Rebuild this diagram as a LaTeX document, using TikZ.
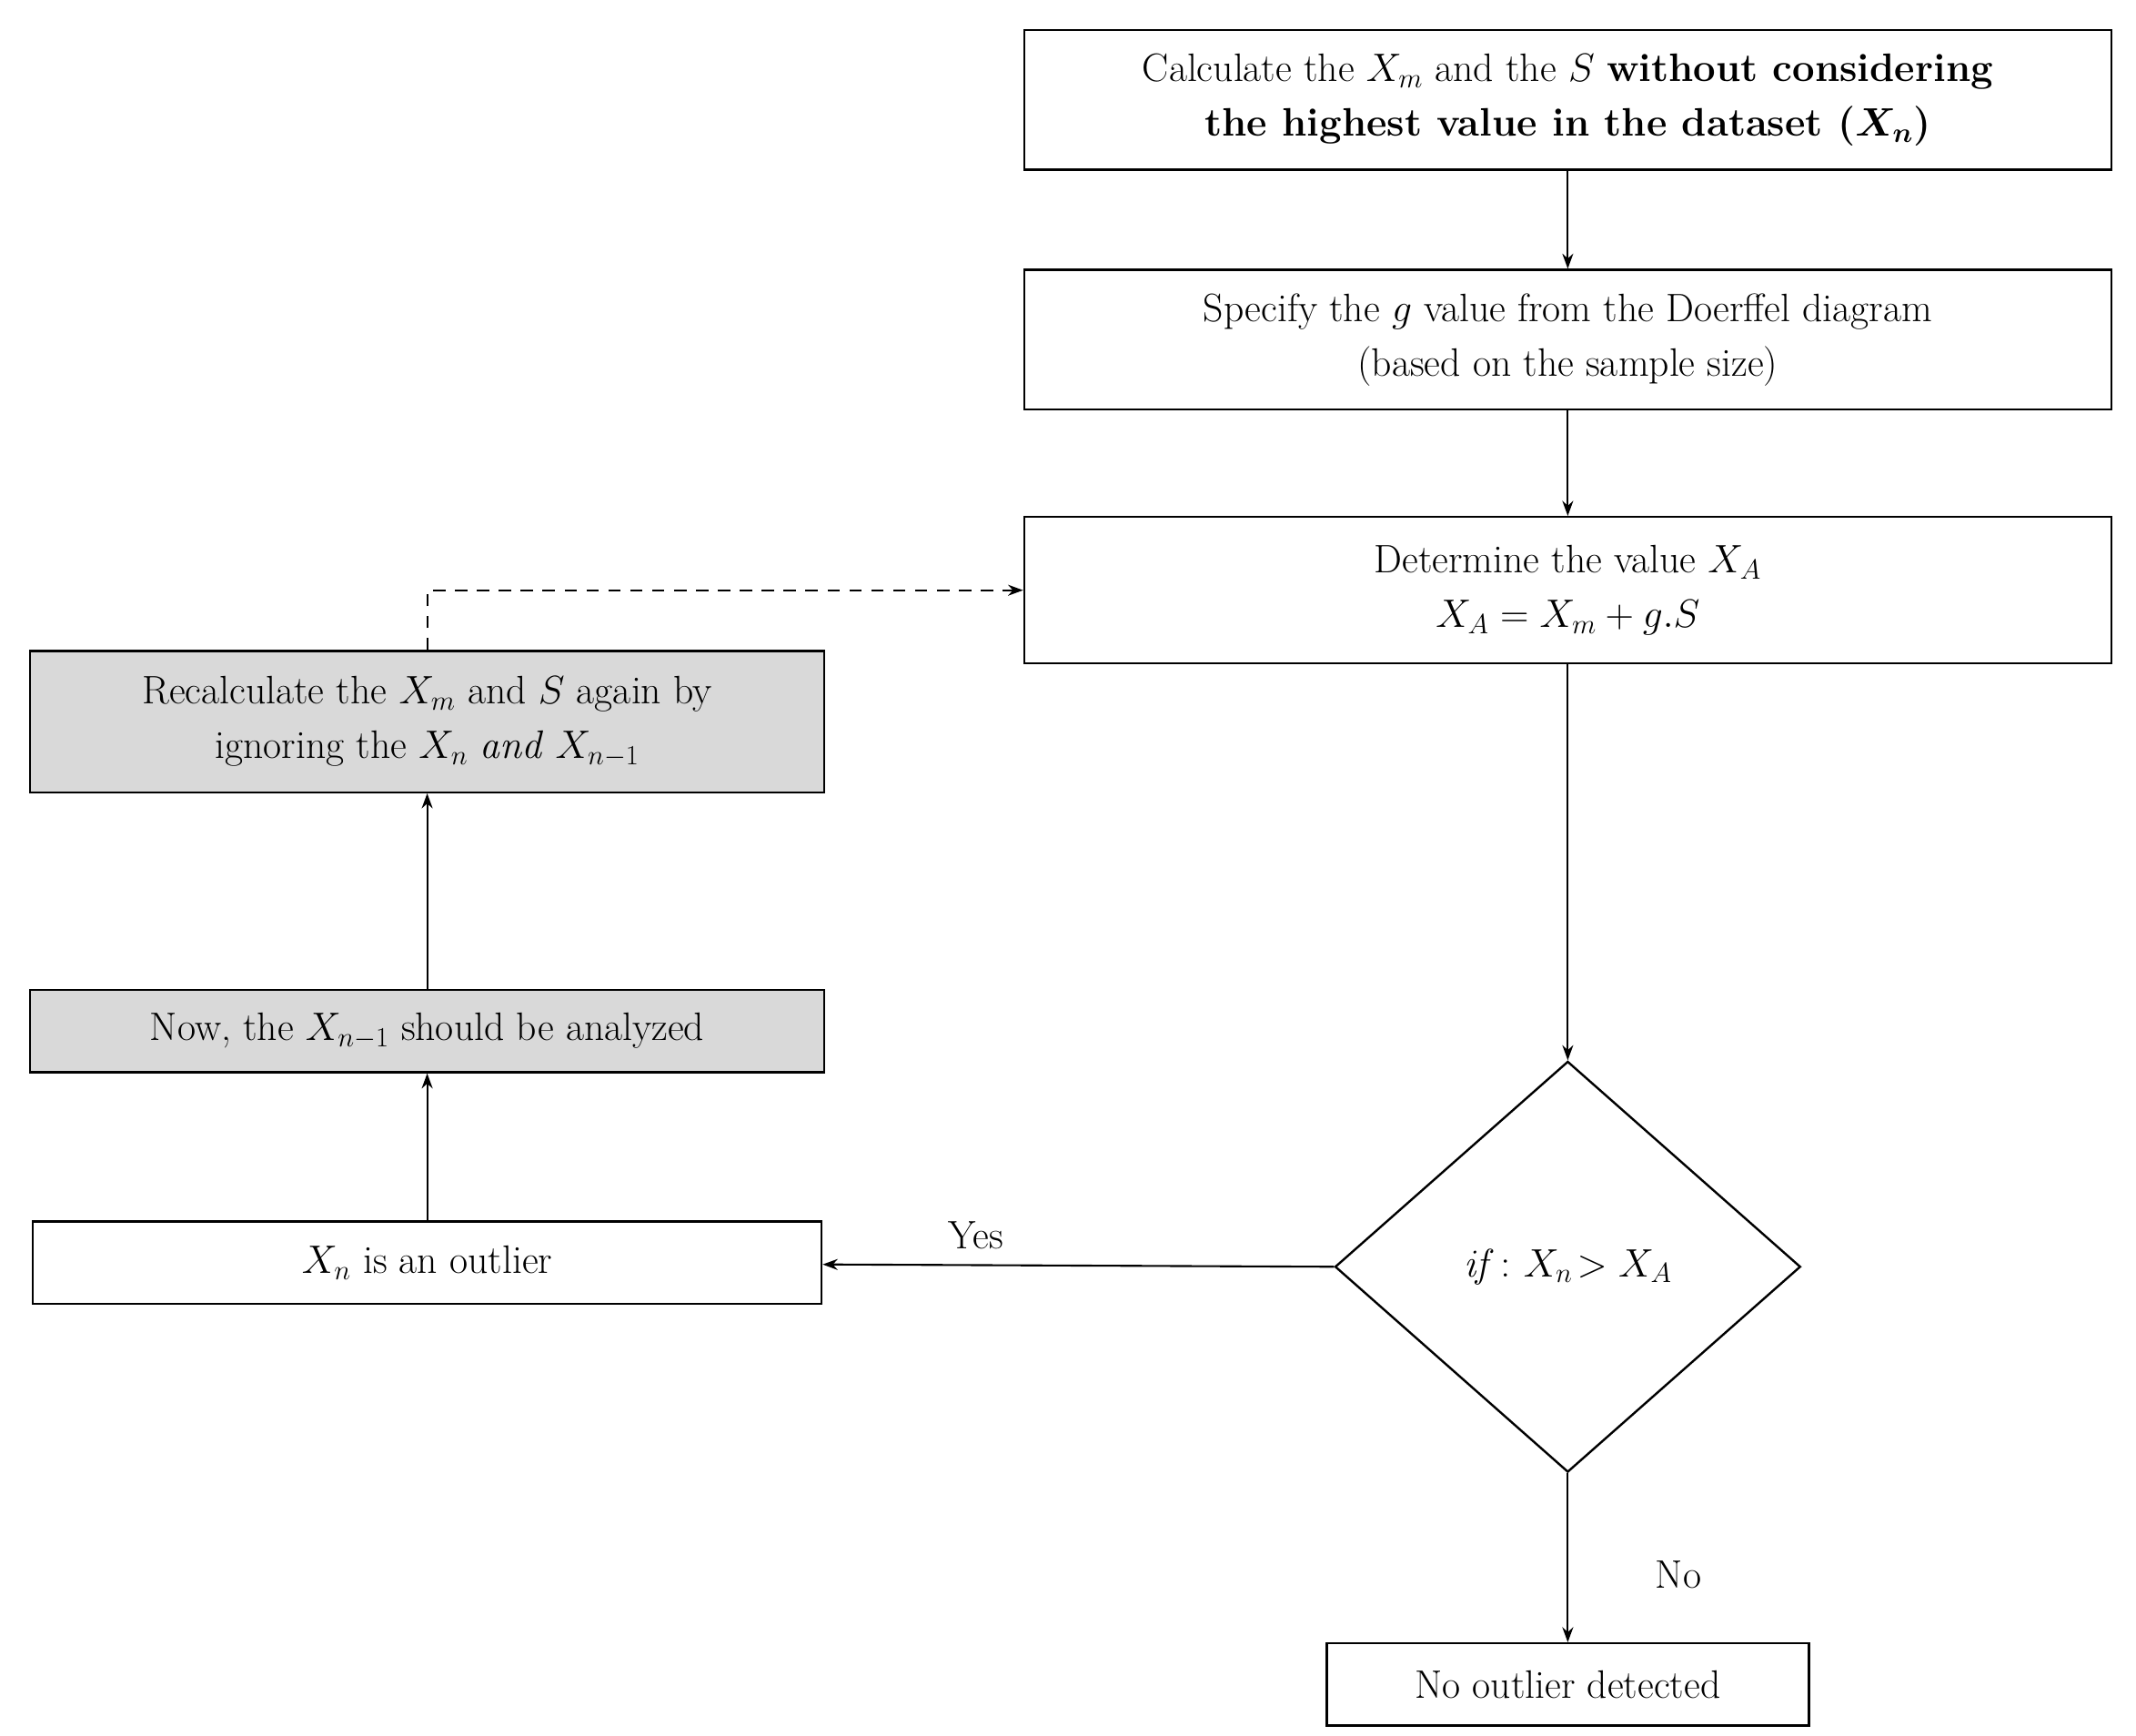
\RequirePackage{fix-cm}
\documentclass[tikz,border=0pt]{standalone}
\usepackage{amsmath}
\usetikzlibrary{shapes.geometric,arrows.meta}
\begin{document}
\begin{tikzpicture}[x=1pt,y=-1pt,
  every node/.append style={font=\fontsize{29}{40}\selectfont},
  box/.style={draw,line width=1.6pt,minimum width=#1,inner sep=0pt,align=center},
  box/.default=794pt,
  arr/.style={line width=1.4pt,-{Stealth[length=11pt,width=8pt]}}]
\useasboundingbox (0,0) rectangle (1560,1267);
\node[box,minimum height=102pt] (b1) at (1145,73) {Calculate the $X_m$ and the $S$ \textbf{without considering}\\ \textbf{the highest value in the dataset ($\boldsymbol{X_n}$)}};
\node[box,minimum height=102pt] (b2) at (1145,248) {Specify the $g$ value from the Doerffel diagram\\ (based on the sample size)};
\node[box,minimum height=107pt] (b3) at (1145,431) {Determine the value $X_A$\\ $X_A=X_m+g.S$};
\node[draw,diamond,line width=1.6pt,minimum width=340pt,minimum height=300pt,inner sep=0pt] (d) at (1145,925) {$\mathit{if}\colon X_n\!>X_A$};
\node[box=352pt,minimum height=60pt] (no) at (1145,1230) {No outlier detected};
\node[box=576pt,minimum height=60pt] (out) at (312,922) {$X_n$ is an outlier};
\node[box=580pt,minimum height=60pt,fill=black!15] (now) at (312,753) {Now, the $X_{n-1}$ should be analyzed};
\node[box=580pt,minimum height=103pt,fill=black!15] (re) at (312,527) {Recalculate the $X_m$ and $S$ again by\\ ignoring the $X_n$ \textit{and} $X_{n-1}$};
\draw[arr] (b1) -- (b2);
\draw[arr] (b2) -- (b3);
\draw[arr] (b3) -- (d.north);
\draw[arr] (d.south) -- (no) node[pos=0.6,right=60pt]{No};
\draw[arr] (d.west) -- (out) node[pos=0.7,above=8pt]{Yes};
\draw[arr] (out) -- (now);
\draw[arr] (now) -- (re);
\draw[arr,dashed,dash pattern=on 9pt off 7pt] (re.north) |- (b3.west);
\end{tikzpicture}
\end{document}
